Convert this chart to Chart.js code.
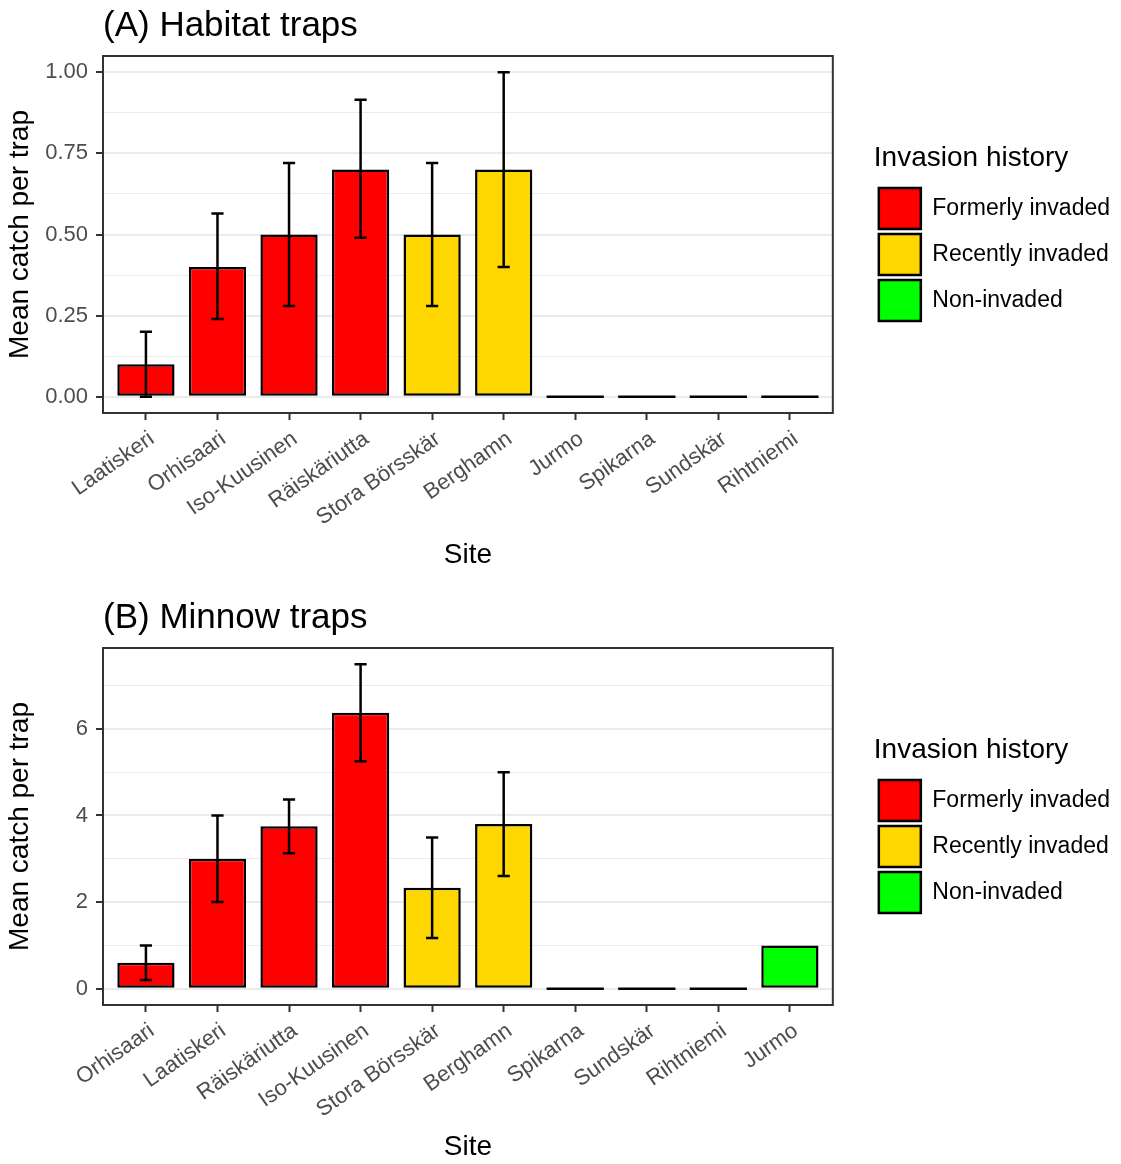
<!DOCTYPE html>
<html>
<head>
<meta charset="utf-8">
<title>Mean catch per trap by site</title>
<script src="https://cdn.jsdelivr.net/npm/chart.js@4.4.1/dist/chart.umd.min.js"></script>
<style>
  html, body { margin: 0; padding: 0; background: #ffffff; }
  #wrap { position: relative; width: 1121px; height: 1164px; }
  .panel { position: absolute; left: 0; width: 1121px; }
  #panelA { top: 0; height: 592px; }
  #panelB { top: 592px; height: 572px; }
  canvas { display: block; }
</style>
</head>
<body>
<div id="wrap">
  <div class="panel" id="panelA"><canvas id="chartA" width="1121" height="592"></canvas></div>
  <div class="panel" id="panelB"><canvas id="chartB" width="1121" height="572"></canvas></div>
</div>
<script>
// ---- Invasion-history groups ----
const historyGroups = ['Formerly invaded', 'Recently invaded', 'Non-invaded'];
const historyColours = ['#FF0000', '#FFD700', '#00FF00'];

// ---- (A) Habitat traps ----
const sitesA   = ['Laatiskeri', 'Orhisaari', 'Iso-Kuusinen', 'Räiskäriutta', 'Stora Börsskär',
                  'Berghamn', 'Jurmo', 'Spikarna', 'Sundskär', 'Rihtniemi'];
const historyA = ['Formerly invaded', 'Formerly invaded', 'Formerly invaded', 'Formerly invaded',
                  'Recently invaded', 'Recently invaded', 'Non-invaded', 'Non-invaded', 'Non-invaded', 'Non-invaded'];
const meanA    = [0.10, 0.40, 0.50, 0.70, 0.50, 0.70, 0, 0, 0, 0];
const lowerA   = [0.00, 0.24, 0.28, 0.49, 0.28, 0.40, null, null, null, null];
const upperA   = [0.20, 0.565, 0.72, 0.915, 0.72, 1.00, null, null, null, null];
const majorTicksA  = [0, 0.25, 0.5, 0.75, 1];
const majorLabelsA = ['0.00', '0.25', '0.50', '0.75', '1.00'];
const minorTicksA  = [0.125, 0.375, 0.625, 0.875];

// ---- (B) Minnow traps ----
const sitesB   = ['Orhisaari', 'Laatiskeri', 'Räiskäriutta', 'Iso-Kuusinen', 'Stora Börsskär',
                  'Berghamn', 'Spikarna', 'Sundskär', 'Rihtniemi', 'Jurmo'];
const historyB = ['Formerly invaded', 'Formerly invaded', 'Formerly invaded', 'Formerly invaded',
                  'Recently invaded', 'Recently invaded', 'Non-invaded', 'Non-invaded', 'Non-invaded', 'Non-invaded'];
const meanB    = [0.60, 3.00, 3.75, 6.37, 2.33, 3.80, 0, 0, 0, 1.00];
const lowerB   = [0.20, 2.00, 3.13, 5.25, 1.17, 2.60, null, null, null, null];
const upperB   = [1.00, 4.00, 4.37, 7.49, 3.49, 5.00, null, null, null, null];
const majorTicksB  = [0, 2, 4, 6];
const majorLabelsB = ['0', '2', '4', '6'];
const minorTicksB  = [1, 3, 5, 7];

Chart.defaults.font.family = "'Liberation Sans', Arial, Helvetica, sans-serif";
Chart.defaults.color = '#000000';

// Error bars (vertical whisker + caps) drawn through the chart's scales
function errorBarPlugin(lower, upper) {
  return {
    id: 'errorBars',
    afterDatasetsDraw(chart) {
      const { ctx, scales: { x, y } } = chart;
      ctx.save();
      ctx.strokeStyle = '#000000';
      ctx.lineWidth = 2.5;
      ctx.lineCap = 'butt';
      lower.forEach((lo, i) => {
        const hi = upper[i];
        if (lo === null || hi === null) return;
        const cx = x.getPixelForValue(i);
        const half = x.getPixelForValue(i + 0.085) - cx;
        const y1 = y.getPixelForValue(lo);
        const y2 = y.getPixelForValue(hi);
        ctx.beginPath();
        ctx.moveTo(cx, y1); ctx.lineTo(cx, y2);
        ctx.moveTo(cx - half, y1); ctx.lineTo(cx + half, y1);
        ctx.moveTo(cx - half, y2); ctx.lineTo(cx + half, y2);
        ctx.stroke();
      });
      ctx.restore();
    }
  };
}

// Zero-valued bars collapse to a flat outline; panel gets a full frame
function panelPlugin(values) {
  return {
    id: 'panelFrame',
    afterDatasetsDraw(chart) {
      const ctx = chart.ctx;
      const bars = chart.getDatasetMeta(0).data;
      ctx.save();
      ctx.strokeStyle = '#000000';
      ctx.lineWidth = 2.5;
      bars.forEach((bar, i) => {
        if (values[i] !== 0) return;
        const p = bar.getProps(['x', 'y', 'width'], true);
        ctx.beginPath();
        ctx.moveTo(p.x - p.width / 2, p.y);
        ctx.lineTo(p.x + p.width / 2, p.y);
        ctx.stroke();
      });
      ctx.restore();
    },
    afterDraw(chart) {
      const { ctx, chartArea: a } = chart;
      ctx.save();
      ctx.strokeStyle = '#333333';
      ctx.lineWidth = 2;
      ctx.strokeRect(a.left, a.top, a.right - a.left, a.bottom - a.top);
      ctx.restore();
    }
  };
}

function buildPanel(canvasId, p) {
  const gridValues = p.major.concat(p.minor).sort((a, b) => a - b);
  const isMajor = v => p.major.indexOf(v) !== -1;
  return new Chart(document.getElementById(canvasId), {
    type: 'bar',
    data: {
      datasets: [{
        data: p.means.map((v, i) => ({ x: i, y: v })),
        backgroundColor: p.history.map(h => historyColours[historyGroups.indexOf(h)]),
        borderColor: '#000000',
        borderWidth: 2.5,
        borderSkipped: false,
        categoryPercentage: 1,
        barPercentage: 0.8
      }]
    },
    options: {
      responsive: false,
      devicePixelRatio: 1,
      animation: false,
      events: [],
      layout: { padding: { left: 0, right: 1, top: 0, bottom: 0 } },
      scales: {
        x: {
          type: 'linear',
          min: -0.6,
          max: p.sites.length - 0.4,
          bounds: 'data',
          offset: false,
          afterBuildTicks: s => { s.ticks = p.sites.map((_, i) => ({ value: i })); },
          afterFit: s => { s.height = p.xAxisHeight; },
          ticks: {
            autoSkip: false,
            minRotation: 35,
            maxRotation: 35,
            padding: 6,
            labelOffset: 6,
            color: '#4D4D4D',
            font: { size: 22 },
            callback: v => p.sites[v]
          },
          grid: {
            offset: false,
            drawOnChartArea: false,
            tickLength: 7,
            tickWidth: 2,
            tickColor: '#333333',
            color: '#333333'
          },
          border: { display: false },
          title: {
            display: true,
            text: 'Site',
            color: '#000000',
            font: { size: 28 },
            padding: { top: 0, bottom: p.siteTitleBottom }
          }
        },
        y: {
          type: 'linear',
          min: p.yMin,
          max: p.yMax,
          bounds: 'data',
          afterBuildTicks: s => { s.ticks = gridValues.map(v => ({ value: v })); },
          afterFit: s => { s.width = 103; },
          ticks: {
            autoSkip: false,
            padding: 8,
            color: '#4D4D4D',
            font: { size: 22 },
            callback: v => isMajor(v) ? p.majorLabels[p.major.indexOf(v)] : ''
          },
          grid: {
            color: '#EBEBEB',
            lineWidth: c => (c.tick && isMajor(c.tick.value)) ? 2 : 1,
            tickLength: 7,
            tickWidth: 2,
            tickColor: c => (c.tick && isMajor(c.tick.value)) ? '#333333' : 'rgba(0,0,0,0)'
          },
          border: { display: false },
          title: {
            display: true,
            text: 'Mean catch per trap',
            color: '#000000',
            font: { size: 28 },
            padding: { top: 3, bottom: 0 }
          }
        },
        legendGap: {
          axis: 'y',
          type: 'linear',
          position: 'right',
          display: true,
          grid: { display: false },
          border: { display: false },
          ticks: { display: false },
          afterFit: s => { s.width = 41; }
        }
      },
      plugins: {
        tooltip: { enabled: false },
        title: {
          display: true,
          text: p.title,
          align: 'start',
          fullSize: false,
          color: '#000000',
          font: { size: 35, weight: 'normal' },
          padding: { top: 5, bottom: 9 }
        },
        legend: {
          display: true,
          position: 'right',
          align: 'center',
          fullSize: false,
          maxWidth: 300,
          onClick: null,
          title: {
            display: true,
            text: 'Invasion history',
            position: 'start',
            color: '#000000',
            font: { size: 28 },
            padding: { top: 1, bottom: 5.4 }
          },
          labels: {
            boxWidth: 42,
            boxHeight: 41,
            padding: 5,
            color: '#000000',
            font: { size: 23 },
            generateLabels: () => historyGroups.map((g, i) => ({
              text: g,
              fillStyle: historyColours[i],
              strokeStyle: '#000000',
              lineWidth: 2.5,
              hidden: false,
              datasetIndex: 0
            }))
          }
        }
      }
    },
    plugins: [panelPlugin(p.means), errorBarPlugin(p.lower, p.upper)]
  });
}

buildPanel('chartA', {
  title: '(A) Habitat traps',
  sites: sitesA, history: historyA, means: meanA, lower: lowerA, upper: upperA,
  major: majorTicksA, majorLabels: majorLabelsA, minor: minorTicksA,
  yMin: -0.05, yMax: 1.05,
  xAxisHeight: 179, siteTitleBottom: 20
});

buildPanel('chartB', {
  title: '(B) Minnow traps',
  sites: sitesB, history: historyB, means: meanB, lower: lowerB, upper: upperB,
  major: majorTicksB, majorLabels: majorLabelsB, minor: minorTicksB,
  yMin: -0.375, yMax: 7.865,
  xAxisHeight: 159, siteTitleBottom: 0
});
</script>
</body>
</html>
